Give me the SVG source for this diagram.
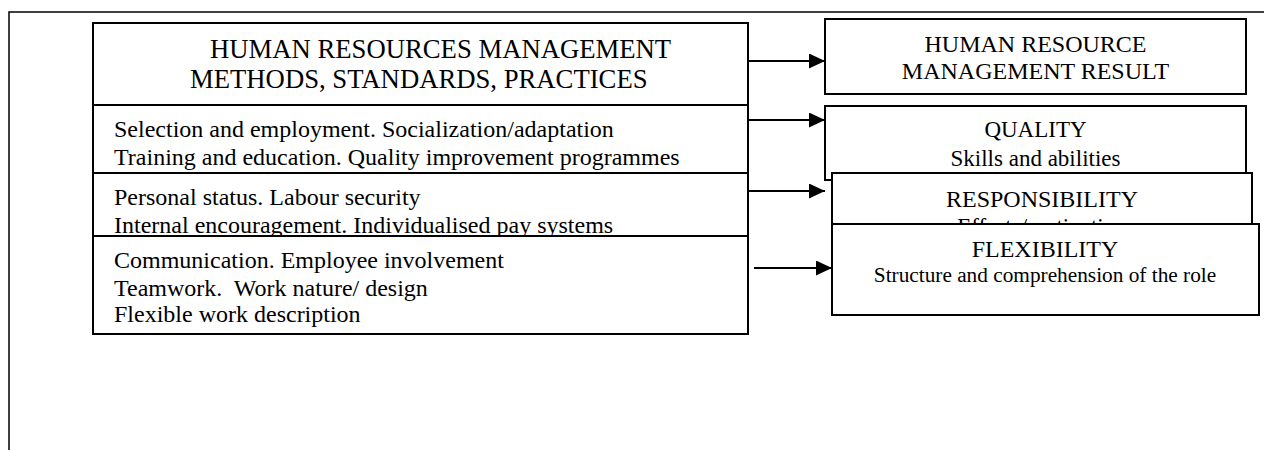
<svg xmlns="http://www.w3.org/2000/svg" width="1264" height="450" viewBox="0 0 1264 450">
<style>
  .box { fill: #ffffff; stroke: #000000; stroke-width: 2; }
  .frame { fill: none; stroke: #000000; stroke-width: 1.5; }
  text { font-family: "Liberation Serif", "Times New Roman", serif; fill: #000000; }
  .hdr { font-size: 26.7px; }
  .row { font-size: 24px; }
  .res { font-size: 24px; text-anchor: middle; }
  .sub { font-size: 23px; text-anchor: middle; }
  .small { font-size: 21.3px; text-anchor: middle; }
  .conn { stroke: #000000; stroke-width: 2; fill: none; marker-end: url(#arrow); }
</style>
<defs>
  <marker id="arrow" markerWidth="16" markerHeight="15" refX="16" refY="7.5" orient="auto" markerUnits="userSpaceOnUse">
    <path d="M0,0 L16,7.5 L0,15 Z" fill="#000000"/>
  </marker>
  <clipPath id="respClip">
    <rect x="832" y="173" width="421" height="50"/>
  </clipPath>
  <clipPath id="persClip">
    <rect x="93" y="173" width="656" height="62"/>
  </clipPath>
</defs>
<rect width="1264" height="450" fill="#ffffff"/>
<path class="frame" d="M9,450 L9,12 L1264,12"/>

<g id="hrm-methods">
  <rect class="box" x="93" y="23" width="655" height="82"/>
  <text class="hdr" x="210" y="58">HUMAN RESOURCES MANAGEMENT</text>
  <text class="hdr" x="190" y="88">METHODS, STANDARDS, PRACTICES</text>
</g>
<g id="selection">
  <rect class="box" x="93" y="105" width="655" height="68"/>
  <text class="row" x="114" y="137">Selection and employment. Socialization/adaptation</text>
  <text class="row" x="114" y="165">Training and education. Quality improvement programmes</text>
</g>
<g id="personal">
  <rect class="box" x="93" y="173" width="655" height="70"/>
  <text class="row" x="114" y="205">Personal status. Labour security</text>
  <text class="row" x="114" y="233" clip-path="url(#persClip)">Internal encouragement. Individualised pay systems</text>
</g>
<g id="communication">
  <rect class="box" x="93" y="236" width="655" height="98"/>
  <text class="row" x="114" y="268">Communication. Employee involvement</text>
  <text class="row" x="114" y="296" xml:space="preserve" style="white-space:pre">Teamwork.  Work nature/ design</text>
  <text class="row" x="114" y="322">Flexible work description</text>
</g>

<g id="hrm-result">
  <rect class="box" x="825" y="19" width="421" height="75"/>
  <text class="res" x="1035.5" y="52">HUMAN RESOURCE</text>
  <text class="res" x="1035.5" y="79">MANAGEMENT RESULT</text>
</g>
<g id="quality">
  <rect class="box" x="825" y="106" width="421" height="74"/>
  <text class="sub" x="1035.5" y="137">QUALITY</text>
  <text class="sub" x="1035.5" y="166">Skills and abilities</text>
</g>
<g id="responsibility">
  <rect class="box" x="832" y="173" width="420" height="60"/>
  <text class="res" x="1042" y="207">RESPONSIBILITY</text>
  <text class="sub" x="1042" y="234" clip-path="url(#respClip)">Efforts/motivation</text>
</g>
<g id="flexibility">
  <rect class="box" x="832" y="224" width="427" height="91"/>
  <text class="res" x="1045" y="257">FLEXIBILITY</text>
  <text class="small" x="1045" y="282">Structure and comprehension of the role</text>
</g>

<g id="connectors">
  <line class="conn" x1="748" y1="61" x2="825" y2="61"/>
  <line class="conn" x1="748" y1="120" x2="825" y2="120"/>
  <line class="conn" x1="748" y1="191" x2="825" y2="191"/>
  <line class="conn" x1="754" y1="268" x2="832" y2="268"/>
</g>
</svg>
